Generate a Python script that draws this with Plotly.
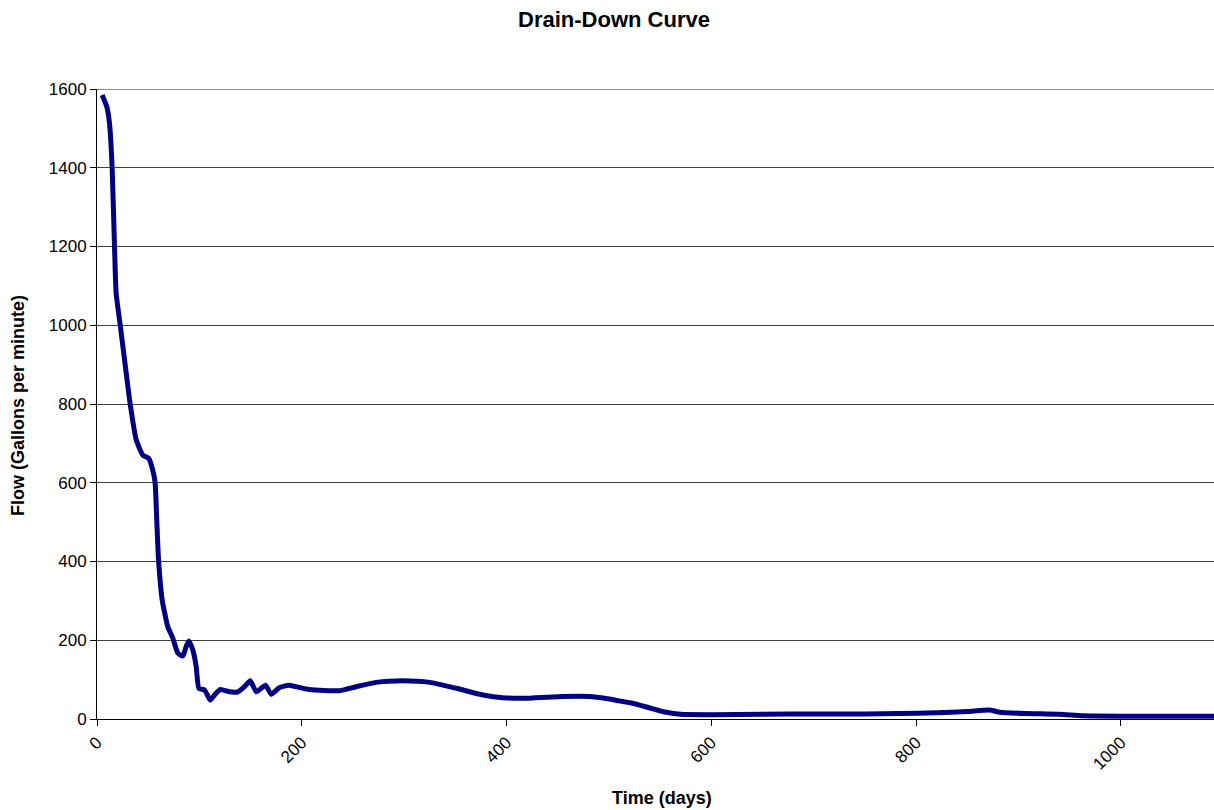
import plotly.graph_objects as go

days = [5, 9.6, 12.2, 14.8, 17.1, 18.7, 22.7, 28.5, 32.4, 38.3, 44.8, 50.6,
        55.2, 56.8, 58.5, 60.1, 63.7, 69.2, 74.1, 79, 83.9, 87.1, 89.7, 93.6,
        96.9, 99.5, 105, 110.6, 114.8, 120.4, 129.5, 137.6, 144.1, 149.7,
        155.5, 160.4, 164.6, 170.2, 178.3, 187.4, 197.9, 207.6, 237, 253,
        272.8, 298.8, 324.9, 351, 377, 396.5, 422.6, 455, 481, 497.5, 510,
        523, 540, 556, 570, 600, 650, 700, 750, 784, 820, 850, 872, 882, 908,
        940, 963, 1000, 1050, 1095]
flow = [1585, 1555, 1513, 1399, 1200, 1081, 1000, 879, 800, 709, 670, 662,
        624, 599, 497, 404, 302, 234, 205, 167, 160, 184, 198, 175,
        133, 78, 74, 48, 61, 75, 69, 69, 82, 97,
        69, 78, 86, 63, 80, 86, 80, 75, 72, 82,
        93, 97, 93, 78, 61, 54, 53, 57, 57, 52, 46,
        40, 28, 17, 12, 11, 12, 13, 13, 14, 16, 19, 23, 17, 14,
        12, 8, 7, 7, 7]

x_ticks = [0, 200, 400, 600, 800, 1000]
y_ticks = [0, 200, 400, 600, 800, 1000, 1200, 1400, 1600]

fig = go.Figure()
fig.add_trace(go.Scatter(
    x=days, y=flow, mode="lines",
    line=dict(color="#000080", width=5, shape="spline", smoothing=0.5),
    hoverinfo="x+y", showlegend=False,
))

font_family = "Liberation Sans, Arial, sans-serif"

plot_l, plot_r, plot_t, plot_b = 97, 1214, 89, 719

fig.update_layout(
    width=1214, height=810,
    margin=dict(l=plot_l, r=1214 - plot_r, t=plot_t, b=810 - plot_b),
    paper_bgcolor="white", plot_bgcolor="white",
    font=dict(family=font_family, size=17, color="black"),
    xaxis=dict(
        range=[0, 1091], tickvals=x_ticks, ticktext=[str(v) for v in x_ticks],
        tickangle=-45, ticks="outside", ticklen=6, tickcolor="black",
        showline=True, linecolor="black", linewidth=1,
        showgrid=False, zeroline=False,
        tickfont=dict(size=17, family=font_family),
    ),
    yaxis=dict(
        range=[0, 1600], tickvals=y_ticks, ticktext=[str(v) for v in y_ticks],
        ticks="outside", ticklen=6, tickcolor="black",
        showline=True, linecolor="black", linewidth=1,
        showgrid=True, gridcolor="#404040", gridwidth=1,
        zeroline=False,
        tickfont=dict(size=17, family=font_family),
    ),
    shapes=[dict(type="line", xref="paper", yref="y", x0=0, x1=1, y0=1600, y1=1600,
                 line=dict(color="#8c8c8c", width=2), layer="below")],
)

def px_ann(text, px, py, size, angle=0):
    return dict(text=text, x=(px - plot_l) / (plot_r - plot_l),
                y=(plot_b - py) / (plot_b - plot_t), xref="paper", yref="paper",
                xanchor="center", yanchor="middle", showarrow=False,
                textangle=angle, font=dict(size=size, family=font_family, color="black"))

fig.update_layout(annotations=[
    px_ann("<b>Drain-Down Curve</b>", 614, 20, 22),
    px_ann("<b>Time (days)</b>", 662, 798, 18),
    px_ann("<b>Flow (Gallons per minute)</b>", 18, 406, 18, -90),
])

fig.write_html("out.html", config={"displayModeBar": False},
               post_script="document.body.style.margin='0';document.body.style.overflow='hidden';")
